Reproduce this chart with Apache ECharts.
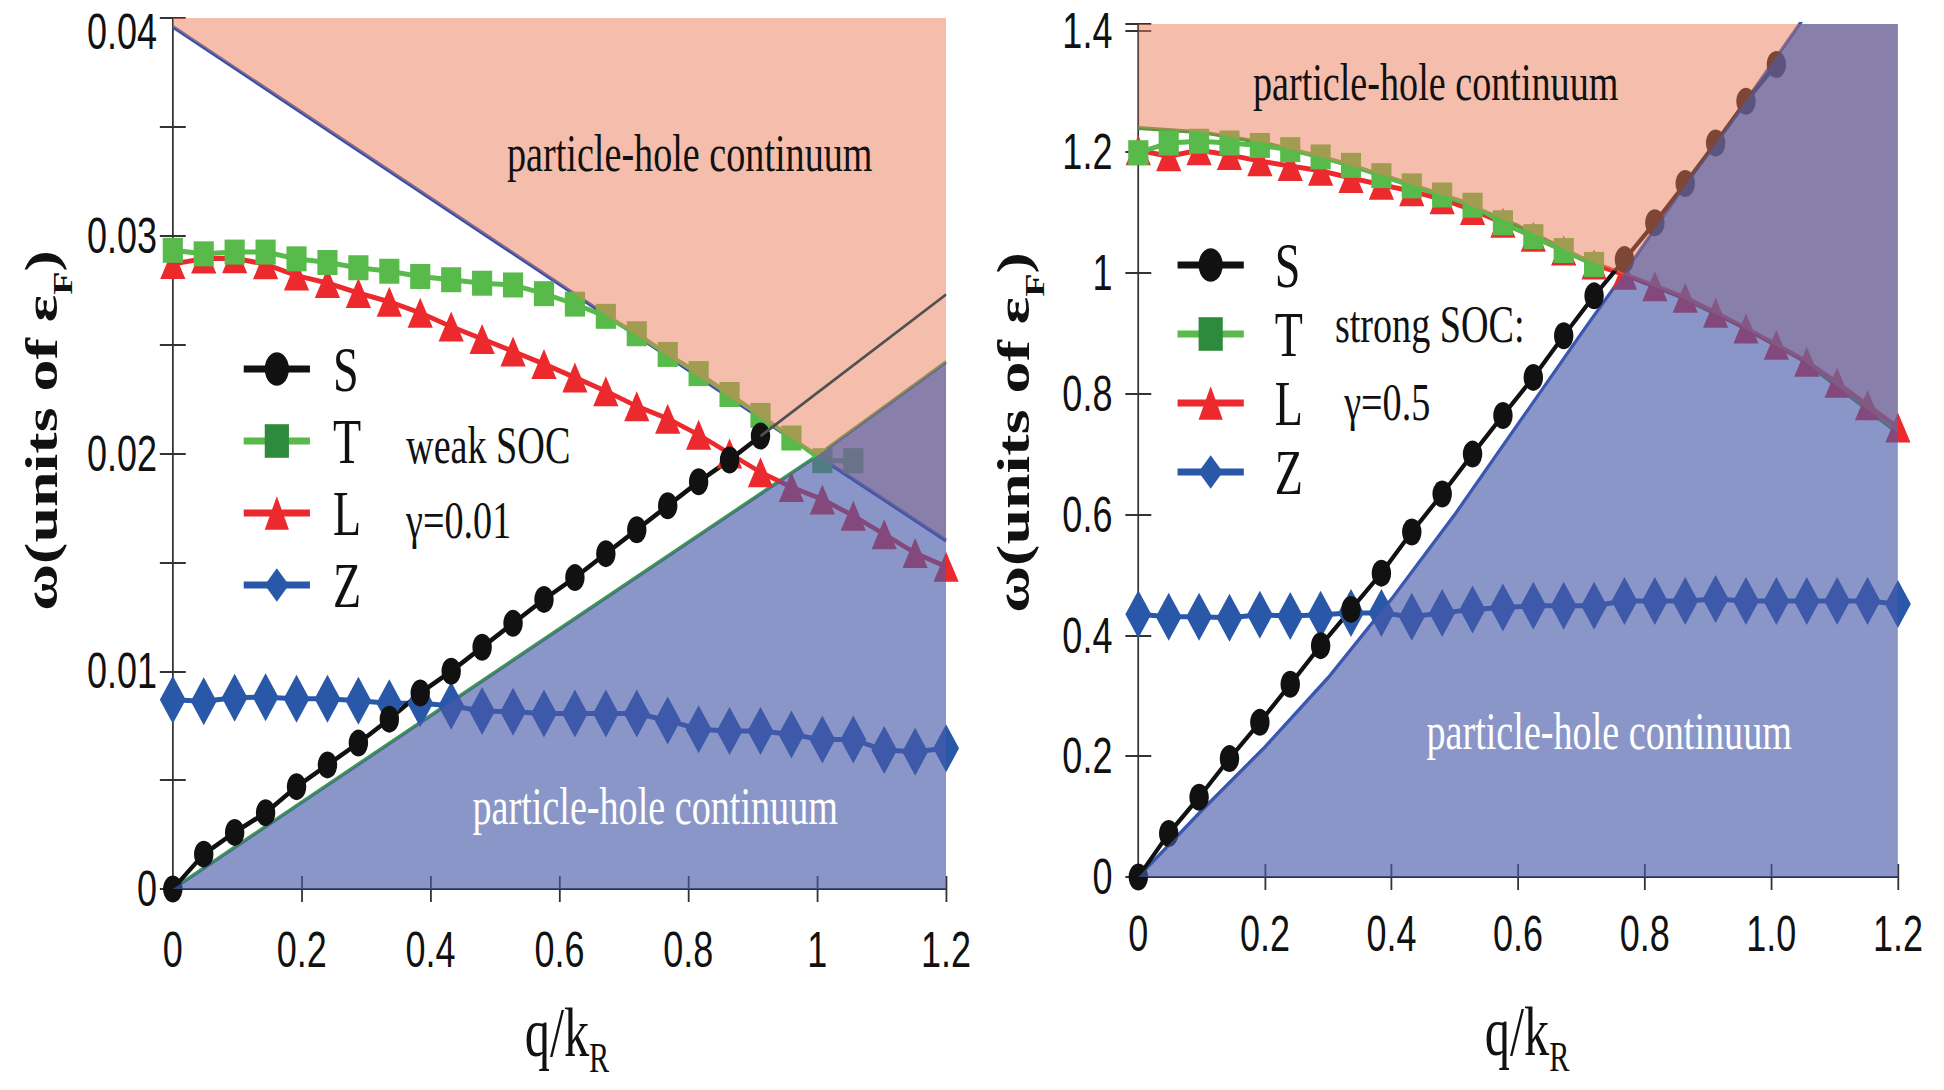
<!DOCTYPE html>
<html>
<head>
<meta charset="utf-8">
<script src="https://cdn.jsdelivr.net/npm/echarts@6/dist/echarts.min.js"></script>
<style>
  html, body { margin: 0; padding: 0; background: #fff; overflow: hidden; }
  #frame { width: 1944px; height: 1090px; overflow: hidden; position: relative; }
  /* the figure is typeset condensed: draw wide, then squeeze horizontally */
  #chart { width: 2700px; height: 1090px; transform: scaleX(0.72); transform-origin: 0 0; }
</style>
</head>
<body>
<div id="frame"><div id="chart"></div></div>
<script>
// momentum grid q/k_R shared by every mode curve
const Q = [0, 0.048, 0.096, 0.144, 0.192, 0.24, 0.288, 0.336, 0.384, 0.432, 0.48, 0.528, 0.576,
           0.624, 0.672, 0.72, 0.768, 0.816, 0.864, 0.912, 0.96, 1.008, 1.056, 1.104, 1.152, 1.2];

// ---- weak SOC, gamma = 0.01 ----
const weakS = [0, 0.0016, 0.0026, 0.0035, 0.0047, 0.0057, 0.0067, 0.0078, 0.0090, 0.0100, 0.0111,
               0.0122, 0.0133, 0.0143, 0.0154, 0.0165, 0.0176, 0.0187, 0.0197, 0.0208];
const weakT = [0.02933, 0.02917, 0.02925, 0.02925, 0.02894, 0.02877, 0.02853, 0.02837, 0.02813,
               0.02798, 0.02782, 0.02774, 0.02734, 0.02686, 0.02630, 0.02550, 0.02455, 0.02367,
               0.02271, 0.02175, 0.02071, 0.01967, 0.01967];
const weakL = [0.02870, 0.02895, 0.02897, 0.02869, 0.02817, 0.02783, 0.02737, 0.02697, 0.02646,
               0.02583, 0.02526, 0.02469, 0.02411, 0.02349, 0.02286, 0.02217, 0.02160, 0.02086,
               0.02000, 0.01914, 0.01846, 0.01789, 0.01714, 0.01629, 0.01543, 0.01480];
const weakZ = [0.00869, 0.00862, 0.00878, 0.00881, 0.00874, 0.00874, 0.00865, 0.00853, 0.00853,
               0.00842, 0.00817, 0.00814, 0.00806, 0.00806, 0.00806, 0.00806, 0.00774, 0.00734,
               0.00726, 0.00726, 0.00710, 0.00686, 0.00686, 0.00638, 0.00630, 0.00646];
const weakSExtQ = [0.912, 1.2];
const weakSExtW = [0.0208, 0.0273];
// particle-hole continuum edges
const weakUpperQ = [0, 1.0, 1.2];
const weakUpperW = [0.0396, 0.0199, 0.0160];
const weakLowerQ = [0, 1.0, 1.2];
const weakLowerW = [0, 0.0199, 0.0242];

// ---- strong SOC, gamma = 0.5 ----
const strongS = [0, 0.072, 0.132, 0.196, 0.256, 0.319, 0.383, 0.443, 0.503, 0.571, 0.634, 0.700,
                 0.764, 0.827, 0.896, 0.962, 1.022, 1.083, 1.148, 1.215, 1.284, 1.345];
const strongT = [1.199, 1.215, 1.218, 1.215, 1.211, 1.204, 1.192, 1.178, 1.161, 1.144, 1.129,
                 1.112, 1.083, 1.060, 1.037, 1.014];
const strongL = [1.203, 1.193, 1.203, 1.195, 1.185, 1.177, 1.169, 1.157, 1.146, 1.135, 1.122,
                 1.104, 1.083, 1.060, 1.037, 1.014, 0.997, 0.978, 0.959, 0.934, 0.908, 0.881,
                 0.853, 0.818, 0.781, 0.744];
const strongZ = [0.435, 0.431, 0.431, 0.429, 0.434, 0.432, 0.434, 0.437, 0.437, 0.431, 0.437,
                 0.443, 0.446, 0.449, 0.449, 0.449, 0.457, 0.457, 0.457, 0.460, 0.457, 0.457,
                 0.457, 0.457, 0.457, 0.452];
const strongUpperQ = [0, 0.1, 0.2, 0.3, 0.4, 0.5, 0.6, 0.7, 0.768, 0.85, 0.95, 1.05, 1.2];
const strongUpperW = [1.24, 1.233, 1.215, 1.188, 1.157, 1.122, 1.078, 1.025, 0.997, 0.963, 0.913, 0.855, 0.735];
// lower edge keeps rising past the top of the frame
const strongLowerQ = [0, 0.1, 0.2, 0.3, 0.4, 0.5, 0.6, 0.7, 0.768, 0.85, 0.95, 1.05, 1.2];
const strongLowerW = [0, 0.11, 0.215, 0.33, 0.46, 0.60, 0.75, 0.90, 1.0, 1.125, 1.27, 1.42, 1.65];

// tick labels
const weakXLabels = ['0', '0.2', '0.4', '0.6', '0.8', '1', '1.2'];
const weakYLabels = ['0', '0.01', '0.02', '0.03', '0.04'];
const strongXLabels = ['0', '0.2', '0.4', '0.6', '0.8', '1.0', '1.2'];
const strongYLabels = ['0', '0.2', '0.4', '0.6', '0.8', '1', '1.2', '1.4'];

const SERIF = "'Liberation Serif', 'Times New Roman', serif";
const SANS = "'Liberation Sans', Arial, sans-serif";
const INK = '#333';

const COL = { S: '#111111', T: '#58ba4a', L: '#ec2a2e', Z: '#2a58a8' };
const PINK = 'rgba(235,125,90,0.5)';
const BLUE = 'rgba(74,91,169,0.64)';

const pairs = (qs, ws) => ws.map((w, i) => [qs[i], w]);

function fmt(labels, step, top) {
  return v => {
    const i = Math.round(v / step);
    if (Math.abs(v - i * step) > step * 1e-3 || labels[i] === undefined) return '';
    return (top && i === labels.length - 1) ? '{top|' + labels[i] + '}' : labels[i];
  };
}

// rich styles for a name with a lowered subscript: main text sits at the top of a
// taller line (set by an empty strut), the subscript sits at its bottom
function subRich(size, subSize, lineH, bold) {
  const w = bold ? 'bold' : 'normal';
  return {
    a: { fontFamily: SERIF, fontWeight: w, fontSize: size, lineHeight: size, color: '#111', verticalAlign: 'top' },
    s: { fontFamily: SERIF, fontWeight: w, fontSize: subSize, lineHeight: subSize, color: '#111', verticalAlign: 'bottom' },
    strut: { fontSize: 1, lineHeight: lineH, width: 0 }
  };
}

function xAxes(grid, labels, margin, gap, padLeft) {
  const line = { show: true, lineStyle: { color: INK, width: 2 } };
  const tick = { show: true, inside: true, length: 13, lineStyle: { color: INK, width: 2.5 } };
  return [
    { gridIndex: grid, type: 'value', position: 'bottom', min: 0, max: 1.2, interval: 0.2,
      axisLine: line, axisTick: tick, splitLine: { show: false },
      axisLabel: { margin, color: '#111', fontFamily: SANS, fontSize: 50, formatter: fmt(labels, 0.2) },
      name: '{a|q/k}{s|R}{strut| }', nameLocation: 'middle', nameGap: gap,
      nameTextStyle: { padding: [0, 0, 0, padLeft], rich: subRich(70, 42, 82, false) } },
    { gridIndex: grid, type: 'value', position: 'top', min: 0, max: 1.2, interval: 0.2,
      axisLine: line, axisTick: tick, splitLine: { show: false }, axisLabel: { show: false } }
  ];
}

function yAxes(grid, max, step, labels, margin, gap, padLeft, minor, topShift) {
  const line = { show: true, lineStyle: { color: INK, width: 2 } };
  const tick = { show: true, inside: true, length: 18, lineStyle: { color: INK, width: 2 } };
  const minorTick = minor ? { show: true, splitNumber: 2, length: 18, lineStyle: { color: INK, width: 2 } } : { show: false };
  return [
    { gridIndex: grid, type: 'value', position: 'left', min: 0, max, interval: step,
      axisLine: line, axisTick: tick, minorTick, splitLine: { show: false }, minorSplitLine: { show: false },
      axisLabel: { margin, color: '#111', fontFamily: SANS, fontSize: 50,
        formatter: fmt(labels, step, topShift),
        rich: { top: { fontFamily: SANS, fontSize: 50, color: '#111', padding: [28, 0, 0, 0] } } },
      name: '{a|ω(units of ε}{s|F}{a|)}{strut| }', nameLocation: 'middle', nameGap: gap, nameRotate: 90,
      nameTextStyle: { padding: [0, 0, 0, padLeft], rich: subRich(64, 38, 80, true) } },
    { gridIndex: grid, type: 'value', position: 'right', min: 0, max, interval: step,
      axisLine: line, axisTick: tick, minorTick, splitLine: { show: false }, minorSplitLine: { show: false },
      axisLabel: { show: false } }
  ];
}

function mode(name, ys, ax, symbol, size, z) {
  return {
    name, type: 'line', xAxisIndex: ax, yAxisIndex: ax, data: pairs(Q, ys),
    symbol, symbolSize: size, showSymbol: true, showAllSymbol: true,
    lineStyle: { color: COL[name], width: 5 }, itemStyle: { color: COL[name] },
    z, silent: true
  };
}

function edge(name, qs, ws, ax, color, z) {
  return { name, type: 'line', xAxisIndex: ax, yAxisIndex: ax, data: pairs(qs, ws),
    symbol: 'none', lineStyle: { color, width: 4 }, z, silent: true };
}

function region(name, qs, ws, ax, fill, origin, z) {
  return { name, type: 'line', xAxisIndex: ax, yAxisIndex: ax, data: pairs(qs, ws),
    symbol: 'none', lineStyle: { width: 0, opacity: 0 }, areaStyle: { color: fill, origin, opacity: 1 },
    z, silent: true };
}

function legend(left, top, gap, textPad) {
  return {
    orient: 'vertical', left, top, itemWidth: 92, itemHeight: 42, itemGap: gap,
    selectedMode: false,
    lineStyle: { width: 7 },
    textStyle: { fontFamily: SERIF, fontSize: 64, color: '#111', padding: [0, 0, 0, textPad] },
    data: [
      { name: 'S' },
      { name: 'T', itemStyle: { color: '#2e8b3e' } },
      { name: 'L' },
      { name: 'Z' }
    ]
  };
}

function label(x, y, text, fill, align) {
  return { type: 'text', x, y, z: 100, silent: true,
    style: { text, fontFamily: SERIF, fontSize: 53, fill, align, verticalAlign: 'middle' } };
}

const chart = echarts.init(document.getElementById('chart'), null, { renderer: 'svg' });
chart.setOption({
  animation: false,
  backgroundColor: '#fff',
  grid: [
    { left: 240, top: 18, width: 1074, height: 871, containLabel: false, outerBoundsMode: 'none' },
    { left: 1581, top: 24, width: 1055, height: 853, containLabel: false, outerBoundsMode: 'none' }
  ],
  xAxis: [
    ...xAxes(0, weakXLabels, 36, 108, 21),
    ...xAxes(1, strongXLabels, 32, 119, 25)
  ],
  yAxis: [
    ...yAxes(0, 0.04, 0.01, weakYLabels, 22, 134, 46, true, true),
    ...yAxes(1, 1.412, 0.2, strongYLabels, 36, 125, 36, false, false)
  ],
  legend: [legend(330, 332, 8, 27), legend(1627, 228, 5, 38)],
  series: [
    // weak SOC
    edge('edgeUpperWeak', weakUpperQ, weakUpperW, 0, '#2f4fb0', 1),
    edge('edgeLowerWeak', weakLowerQ, weakLowerW, 0, '#3f9a50', 1),
    mode('Z', weakZ, 0, 'diamond', [36, 48], 2),
    mode('L', weakL, 0, 'triangle', [35, 30], 2),
    mode('T', weakT, 0, 'rect', [28, 25], 2),
    mode('S', weakS, 0, 'circle', 27, 2),
    region('phWeakUpper', weakUpperQ, weakUpperW, 0, PINK, 'end', 3),
    region('phWeakLower', weakLowerQ, weakLowerW, 0, BLUE, 'start', 4),
    { name: 'S branch', type: 'line', xAxisIndex: 0, yAxisIndex: 0, data: pairs(weakSExtQ, weakSExtW),
      symbol: 'none', lineStyle: { color: '#505050', width: 3 }, z: 5, silent: true },
    // strong SOC
    edge('edgeUpperStrong', strongUpperQ, strongUpperW, 2, '#4f9a3c', 1),
    edge('edgeLowerStrong', strongLowerQ, strongLowerW, 2, '#3556b4', 1),
    mode('Z', strongZ, 2, 'diamond', [36, 48], 2),
    mode('L', strongL, 2, 'triangle', [35, 30], 2),
    mode('T', strongT, 2, 'rect', [28, 25], 2),
    mode('S', strongS, 2, 'circle', 27, 2),
    region('phStrongUpper', strongUpperQ, strongUpperW, 2, PINK, 'end', 3),
    region('phStrongLower', strongLowerQ, strongLowerW, 2, BLUE, 'start', 4)
  ],
  graphic: [
    label(958, 153, 'particle-hole continuum', '#111', 'center'),
    label(910, 806, 'particle-hole continuum', '#fff', 'center'),
    label(1994, 82, 'particle-hole continuum', '#111', 'center'),
    label(2235, 731, 'particle-hole continuum', '#fff', 'center'),
    label(564, 445, 'weak SOC', '#111', 'left'),
    label(564, 520, 'γ=0.01', '#111', 'left'),
    label(1854, 324, 'strong SOC:', '#111', 'left'),
    label(1867, 402, 'γ=0.5', '#111', 'left')
  ]
});
</script>
</body>
</html>
